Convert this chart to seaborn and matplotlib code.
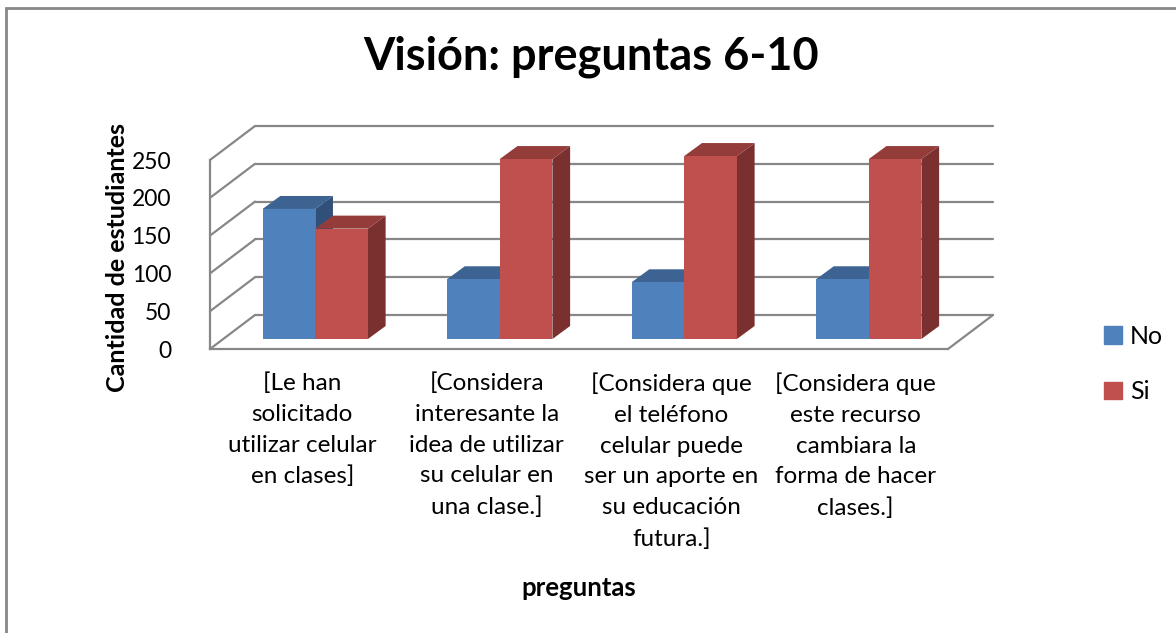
import numpy as np
import pandas as pd
import matplotlib
matplotlib.use("Agg")
from matplotlib import pyplot as plt
from matplotlib.patches import Polygon, Rectangle
from matplotlib.lines import Line2D
import seaborn as sns

categorias = [
    "[Le han\nsolicitado\nutilizar celular\nen clases]",
    "[Considera\ninteresante la\nidea de utilizar\nsu celular en\nuna clase.]",
    "[Considera que\nel teléfono\ncelular puede\nser un aporte en\nsu educación\nfutura.]",
    "[Considera que\neste recurso\ncambiara la\nforma de hacer\nclases.]",
]
respuestas = ["No", "Si"]
valores_no = [172, 79, 75, 79]
valores_si = [146, 238, 242, 238]
yticks = [0, 50, 100, 150, 200, 250]

colores = {"No": "#4F81BD", "Si": "#C0504D"}
tapa = {"No": "#3C6391", "Si": "#943C3A"}
lado = {"No": "#30507A", "Si": "#7A302E"}

df = pd.DataFrame({
    "pregunta": categorias * 2,
    "respuesta": ["No"] * 4 + ["Si"] * 4,
    "valor": valores_no + valores_si,
})

sns.set_style("white")
plt.rcParams["font.family"] = ["Lato", "DejaVu Sans"]
plt.rcParams["text.color"] = "black"
plt.rcParams["xtick.color"] = "black"
plt.rcParams["ytick.color"] = "black"

W, H = 1176, 633
fig = plt.figure(figsize=(W / 100, H / 100), dpi=100)

def rect(x0, ybot, w, h):
    return [x0 / W, (H - ybot) / H, w / W, h / H]

# three planes of the fake 3d box: front axis, bars, back wall
pw, ph = 738, 189
ax_front = fig.add_axes(rect(210, 349, pw, ph))
ax = fig.add_axes(rect(223, 339, pw, ph))
ax_back = fig.add_axes(rect(255, 315, pw, ph))
for a in (ax_front, ax, ax_back):
    a.set_xlim(-0.5, 3.5)
    a.set_ylim(0, 250)
    a.patch.set_visible(False)
ax_back.set_zorder(0)
ax_front.set_zorder(1)
ax.set_zorder(2)

grid_c = "#878787"
# back wall gridlines
ax_back.set_axis_off()
for v in yticks:
    ax_back.axhline(v, color=grid_c, lw=1.6, clip_on=False)

# front axis
for s in ["top", "right"]:
    ax_front.spines[s].set_visible(False)
for s in ["left", "bottom"]:
    ax_front.spines[s].set_color(grid_c)
    ax_front.spines[s].set_linewidth(1.6)
ax_front.set_yticks(yticks)
ax_front.set_yticklabels([str(v) for v in yticks], fontsize=16.5)
ax_front.tick_params(axis="y", length=8, width=1.6, color=grid_c, pad=20, direction="out",
                     labelcolor="black")
ax_front.set_xticks(np.arange(-0.5, 4, 1))
ax_front.set_xticklabels([])
ax_front.tick_params(axis="x", which="major", length=8, width=1.6, color=grid_c, direction="out")
ax_front.set_xticks(range(4), minor=True)
ax_front.set_xticklabels(categorias, minor=True, fontsize=17.5, linespacing=1.57, va="top")
ax_front.tick_params(axis="x", which="minor", length=0, pad=17, labelcolor="black")

# diagonals between front axis and back wall
def to_fig(a, x, y):
    return fig.transFigure.inverted().transform(a.transData.transform((x, y)))

segs = [(-0.5, v) for v in yticks] + [(3.5, 0)]
for x, v in segs:
    p0 = to_fig(ax_front, x, v)
    p1 = to_fig(ax_back, x, v)
    fig.add_artist(Line2D([p0[0], p1[0]], [p0[1], p1[1]], color=grid_c, lw=1.6))

# bars
sns.barplot(data=df, x="pregunta", y="valor", hue="respuesta", palette=colores,
            width=0.571, ax=ax, legend=False, saturation=1, zorder=3,
            edgecolor="none")
ax.set_xlim(-0.5, 3.5)
ax.set_ylim(0, 250)
ax.set_axis_off()

dx = 17.7 / (pw / 4)
dy = 13 / (ph / 250)
bars = ax.patches
for i, p in enumerate(bars):
    r = "No" if i < 4 else "Si"
    x0, w, h = p.get_x(), p.get_width(), p.get_height()
    z = 2 if r == "No" else 2.5
    side = Polygon([(x0 + w, 0), (x0 + w + dx, dy), (x0 + w + dx, h + dy), (x0 + w, h)],
                   closed=True, facecolor=lado[r], edgecolor="none", zorder=z)
    top = Polygon([(x0, h), (x0 + dx, h + dy), (x0 + w + dx, h + dy), (x0 + w, h)],
                  closed=True, facecolor=tapa[r], edgecolor="none", zorder=z)
    ax.add_patch(side)
    ax.add_patch(top)
    side.set_clip_on(False)
    top.set_clip_on(False)
for p in bars:
    p.set_clip_on(False)

# legend
handles = [Rectangle((0, 0), 1, 1, color=colores[r]) for r in respuestas]
fig.legend(handles, respuestas, loc="center left", bbox_to_anchor=(1104 / W, 1 - 364 / H),
           frameon=False, fontsize=18, handlelength=0.7, handleheight=0.7,
           handletextpad=0.35, labelspacing=1.3, borderpad=0, borderaxespad=0)

fig.text(591 / W, 1 - 57 / H, "Visión: preguntas 6-10", ha="center", va="center",
         fontsize=32.5, fontweight="bold")
fig.text(118 / W, 1 - 258 / H, "Cantidad de estudiantes", ha="center", va="center",
         rotation=90, fontsize=18, fontweight="bold")
fig.text(579 / W, 1 - 588 / H, "preguntas", ha="center", va="center",
         fontsize=18.5, fontweight="bold")

fig.add_artist(Rectangle((6 / W, -0.05), 1.1, 1 - 8 / H + 0.05, transform=fig.transFigure,
                         fill=False, edgecolor="#888888", lw=2))

fig.savefig("out.png", dpi=100)
